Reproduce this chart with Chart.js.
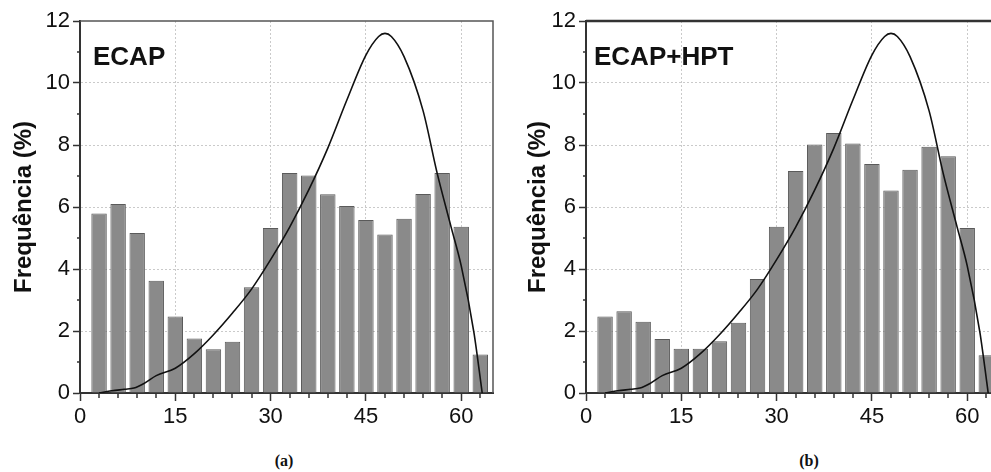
<!DOCTYPE html>
<html>
<head>
<meta charset="utf-8">
<script src="https://cdn.jsdelivr.net/npm/chart.js@4"></script>
<style>
  html,body{margin:0;padding:0;background:#fff;overflow:hidden;width:991px;height:472px}
  .panel{position:absolute;top:0}
  .cap{position:absolute;top:452px;font:bold 16px "Liberation Serif","Times New Roman",serif;color:#111;transform:translateX(-50%)}
</style>
</head>
<body>
<canvas id="chartA" class="panel" width="500" height="440" style="left:0px"></canvas>
<canvas id="chartB" class="panel" width="500" height="440" style="left:506px"></canvas>
<div class="cap" style="left:284px">(a)</div>
<div class="cap" style="left:809px">(b)</div>
<script>
// bin centres (misorientation angle, degrees)
const angles = [3,6,9,12,15,18,21,24,27,30,33,36,39,42,45,48,51,54,57,60,63]
// frequency (%) per bin
const freqA = [5.79,6.10,5.16,3.62,2.47,1.76,1.41,1.65,3.41,5.32,7.10,7.02,6.41,6.03,5.58,5.11,5.62,6.42,7.10,5.36,1.24]
const freqB = [2.47,2.64,2.30,1.74,1.43,1.43,1.67,2.27,3.68,5.36,7.16,8.02,8.39,8.05,7.39,6.53,7.20,7.94,7.64,5.32,1.22]
// fitted curve (same in both panels)
const curveX = [3,5,7,8.5,10,12,15,18,21,24,27,30,33,36,39,42,45,47,48,49,51,54,56.2,58.4,60,62,63.3]
const curveY = [0,0.07,0.12,0.16,0.3,0.56,0.8,1.27,1.88,2.58,3.35,4.3,5.35,6.55,7.9,9.45,10.9,11.5,11.6,11.5,10.85,9.1,7.1,5.36,4.1,1.95,0]
// axis ticks
const majorX = [0,15,30,45,60]
const minorX = [3,6,9,12,18,21,24,27,33,36,39,42,48,51,54,57,63]
const minorY = [1,3,5,7,9,11]

const tickFont = {family:'"Liberation Sans",Arial,sans-serif', size:22}

const extras = {
  id:'extras',
  afterDraw(chart, args, opts){
    const {ctx, chartArea:a, scales:{x, y}} = chart
    ctx.save()
    // top/right frame
    ctx.strokeStyle = opts.frameColor
    ctx.lineWidth = opts.frameWidth
    ctx.beginPath()
    ctx.moveTo(a.left, a.top)
    ctx.lineTo(a.right, a.top)
    ctx.lineTo(a.right, a.bottom)
    ctx.stroke()
    // minor ticks
    ctx.strokeStyle = '#333'
    ctx.lineWidth = 1.5
    ctx.beginPath()
    minorX.forEach(v=>{
      const px = Math.round(x.getPixelForValue(v))
      ctx.moveTo(px, a.bottom)
      ctx.lineTo(px, a.bottom+5)
    })
    minorY.forEach(v=>{
      const py = Math.round(y.getPixelForValue(v))
      ctx.moveTo(a.left, py)
      ctx.lineTo(a.left-3, py)
    })
    ctx.stroke()
    // panel label
    ctx.font = 'bold 26px "Liberation Sans",Arial,sans-serif'
    ctx.fillStyle = '#111'
    ctx.textBaseline = 'alphabetic'
    ctx.fillText(opts.label, a.left + opts.dx, 65)
    ctx.restore()
  }
}

function makeChart(id, freq, label, dx, titlePad, frameColor, frameWidth){
  const bars = []
  for(let i=0;i<angles.length;i++){
    bars.push({x:angles[i], y:freq[i]})
  }
  const curve = []
  for(let i=0;i<curveX.length;i++){
    curve.push({x:curveX[i], y:curveY[i]})
  }
  return new Chart(document.getElementById(id),{
    type:'bar',
    data:{
      datasets:[{
        type:'line',
        data:curve,
        borderColor:'#111',
        borderWidth:1.6,
        pointRadius:0,
        cubicInterpolationMode:'monotone',
        order:0
      },{
        data:bars,
        backgroundColor:'#8a8a8a',
        borderColor:'#5a5a5a',
        borderWidth:1,
        barPercentage:0.81,
        categoryPercentage:1,
        order:1
      }]
    },
    options:{
      responsive:false,
      animation:false,
      devicePixelRatio:1,
      layout:{padding:{left:0, top:21, right:7, bottom:0}},
      plugins:{
        legend:{display:false},
        tooltip:{enabled:false},
        extras:{label:label, dx:dx, frameColor:frameColor, frameWidth:frameWidth}
      },
      scales:{
        x:{
          type:'linear',
          min:0, max:65,
          offset:false,
          afterFit(s){ s.height = 47 },
          afterBuildTicks(s){ s.ticks = majorX.map(v=>({value:v})) },
          ticks:{font:tickFont, color:'#111', padding:3, includeBounds:false, maxRotation:0},
          grid:{
            offset:false,
            color:c=>c.tick && c.tick.value===0 ? 'rgba(0,0,0,0)' : '#cacaca',
            lineWidth:1,
            tickColor:'#333',
            tickLength:8,
            tickWidth:1.5
          },
          border:{display:true, color:'#333', width:2, dash:[2,2]}
        },
        y:{
          min:0, max:12,
          afterFit(s){ s.width = 80 },
          ticks:{stepSize:2, font:tickFont, color:'#111', padding:3},
          grid:{
            color:c=>c.tick && (c.tick.value===0 || c.tick.value===12) ? 'rgba(0,0,0,0)' : '#cacaca',
            lineWidth:1,
            tickColor:'#333',
            tickLength:7,
            tickWidth:1.5
          },
          border:{display:true, color:'#333', width:2, dash:[2,2]},
          title:{
            display:true,
            text:'Frequência (%)',
            color:'#111',
            font:{family:'"Liberation Sans",Arial,sans-serif', size:24, weight:'bold'},
            padding:{top:titlePad, bottom:0}
          }
        }
      }
    },
    plugins:[extras]
  })
}

const chartA = makeChart('chartA', freqA, 'ECAP', 13, 9.6, '#555', 1.5)
const chartB = makeChart('chartB', freqB, 'ECAP+HPT', 8, 17.6, '#333', 2.5)
</script>
</body>
</html>
